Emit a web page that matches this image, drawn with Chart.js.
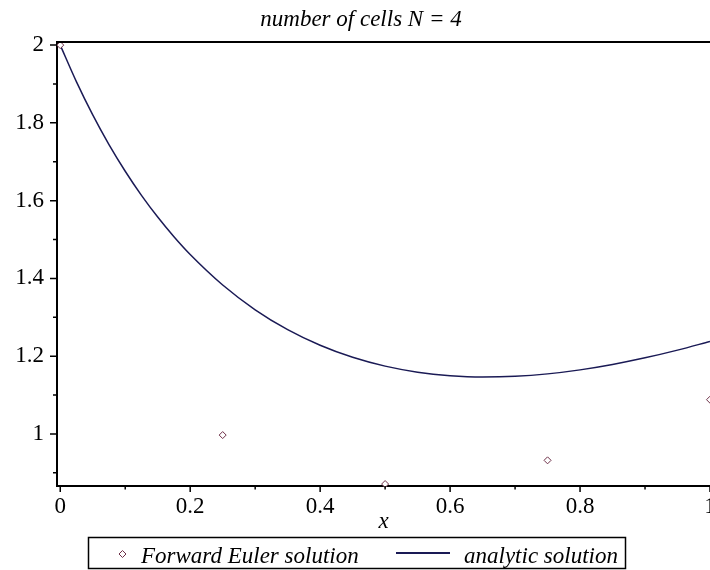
<!DOCTYPE html>
<html>
<head>
<meta charset="utf-8">
<script src="https://cdn.jsdelivr.net/npm/chart.js@4.4.1/dist/chart.umd.min.js"></script>
<style>
  html, body { margin: 0; padding: 0; background: #fff; }
  #wrap { width: 710px; height: 570px; }
</style>
</head>
<body>
<div id="wrap"><canvas id="plot" width="710" height="570"></canvas></div>
<script>
// analytic curve
const analyticX = [0, 0.025, 0.05, 0.075, 0.1, 0.125, 0.15, 0.175, 0.2, 0.25, 0.3, 0.35, 0.4,
  0.45, 0.5, 0.55, 0.6, 0.65, 0.7, 0.75, 0.8, 0.85, 0.9, 0.95, 1];
const analyticY = [2, 1.9054, 1.8205, 1.7442, 1.6756, 1.6136, 1.5577, 1.5071, 1.4614, 1.3830,
  1.3193, 1.2682, 1.2280, 1.1970, 1.1743, 1.1588, 1.1498, 1.1464, 1.1482, 1.1544, 1.1647,
  1.1786, 1.1957, 1.2155, 1.2378];

// forward Euler points (h = 0.25)
const eulerX = [0, 0.25, 0.5, 0.75, 1];
const eulerY = [2, 0.997, 0.871, 0.932, 1.088];

const xTickLabels = ['0', '0.2', '0.4', '0.6', '0.8', '1'];
const yTickLabels = ['1', '1.2', '1.4', '1.6', '1.8', '2'];
const seriesNames = ['Forward Euler solution', 'analytic solution'];
const titleText = 'number of cells N = 4';

const SERIF = '"Liberation Serif", "Times New Roman", serif';
const FONT_SIZE = 23;
const CURVE_COLOR = '#1a1a55';
const POINT_COLOR = '#6e3048';

const toPoints = (xs, ys) => xs.map((x, i) => ({ x, y: ys[i] }));

const tickLabel = (labels) => (value) => {
  const hit = labels.find((t) => Math.abs(Number(t) - value) < 1e-6);
  return hit === undefined ? '' : hit;
};

function diamond(ctx, cx, cy, r) {
  ctx.beginPath();
  ctx.moveTo(cx, cy - r);
  ctx.lineTo(cx + r, cy);
  ctx.lineTo(cx, cy + r);
  ctx.lineTo(cx - r, cy);
  ctx.closePath();
  ctx.fill();
  ctx.stroke();
}

// major/minor tick marks outside the axes, plus the top frame line
const tickMarks = {
  id: 'tickMarks',
  afterDraw(chart) {
    const { ctx, chartArea: a, scales: { x, y } } = chart;
    ctx.save();
    ctx.strokeStyle = '#000';
    ctx.lineWidth = 1.5;
    ctx.beginPath();
    x.ticks.forEach((t) => {
      const px = x.getPixelForValue(t.value);
      const len = t.label ? 6 : 3.5;
      ctx.moveTo(px, a.bottom);
      ctx.lineTo(px, a.bottom + len);
    });
    y.ticks.forEach((t) => {
      const py = y.getPixelForValue(t.value);
      const len = t.label ? 7 : 4;
      ctx.moveTo(a.left, py);
      ctx.lineTo(a.left - len, py);
    });
    ctx.stroke();
    ctx.lineWidth = 2;
    ctx.beginPath();
    ctx.moveTo(a.left - 1, a.top);
    ctx.lineTo(a.right, a.top);
    ctx.stroke();
    ctx.restore();
  },
};

// boxed legend under the axis title
const boxedLegend = {
  id: 'boxedLegend',
  afterDraw(chart) {
    const { ctx } = chart;
    const [euler, curve] = chart.data.datasets;
    ctx.save();
    ctx.strokeStyle = '#000';
    ctx.lineWidth = 1.5;
    ctx.strokeRect(88.5, 537.5, 537, 31);

    ctx.fillStyle = '#fff';
    ctx.strokeStyle = euler.borderColor;
    ctx.lineWidth = 1;
    diamond(ctx, 122.5, 554, 3.5);

    ctx.strokeStyle = curve.borderColor;
    ctx.lineWidth = 2;
    ctx.beginPath();
    ctx.moveTo(396, 553);
    ctx.lineTo(450, 553);
    ctx.stroke();

    ctx.fillStyle = '#000';
    ctx.font = `italic ${FONT_SIZE}px ${SERIF}`;
    ctx.textBaseline = 'alphabetic';
    ctx.textAlign = 'left';
    ctx.fillText(euler.label, 141, 563);
    ctx.fillText(curve.label, 464, 563);
    ctx.restore();
  },
};

const axisFont = { family: SERIF, size: FONT_SIZE };

new Chart(document.getElementById('plot'), {
  type: 'scatter',
  data: {
    datasets: [
      {
        label: seriesNames[0],
        data: toPoints(eulerX, eulerY),
        pointStyle: 'rectRot',
        pointRadius: 3.5,
        pointBorderWidth: 1,
        borderColor: POINT_COLOR,
        backgroundColor: '#fff',
        clip: false,
      },
      {
        label: seriesNames[1],
        data: toPoints(analyticX, analyticY),
        showLine: true,
        pointRadius: 0,
        borderColor: CURVE_COLOR,
        borderWidth: 1.5,
        cubicInterpolationMode: 'monotone',
        fill: false,
      },
    ],
  },
  options: {
    responsive: false,
    animation: false,
    devicePixelRatio: 1,
    // left padding only nudges the centred title to where the original sits
    layout: { autoPadding: false, padding: { top: 0, left: 12, right: 0, bottom: 34 } },
    plugins: {
      legend: { display: false },
      tooltip: { enabled: false },
      title: {
        display: true,
        text: titleText,
        color: '#000',
        font: { family: SERIF, size: FONT_SIZE, style: 'italic', weight: 'normal' },
        padding: { top: 6, bottom: 8.4 },
      },
    },
    scales: {
      x: {
        type: 'linear',
        min: -0.005,
        max: 1,
        afterFit(scale) {
          scale.height = 50;
          scale.paddingLeft = 0;
          scale.paddingRight = 0;
        },
        grid: { display: false, drawTicks: false },
        border: { display: true, color: '#000', width: 2 },
        ticks: {
          stepSize: 0.1,
          includeBounds: false,
          autoSkip: false,
          maxRotation: 0,
          padding: 7,
          color: '#000',
          font: axisFont,
          callback: tickLabel(xTickLabels),
        },
        title: {
          display: true,
          text: 'x',
          color: '#000',
          font: { family: SERIF, size: FONT_SIZE, style: 'italic' },
          padding: { top: 0, bottom: 0 },
        },
      },
      y: {
        type: 'linear',
        min: 0.866,
        max: 2.008,
        afterFit(scale) {
          scale.width = 45;
        },
        grid: { display: false, drawTicks: false },
        border: { display: true, color: '#000', width: 2 },
        ticks: {
          stepSize: 0.1,
          includeBounds: false,
          autoSkip: false,
          padding: 13,
          color: '#000',
          font: axisFont,
          callback: tickLabel(yTickLabels),
        },
      },
    },
  },
  plugins: [tickMarks, boxedLegend],
});
</script>
</body>
</html>
